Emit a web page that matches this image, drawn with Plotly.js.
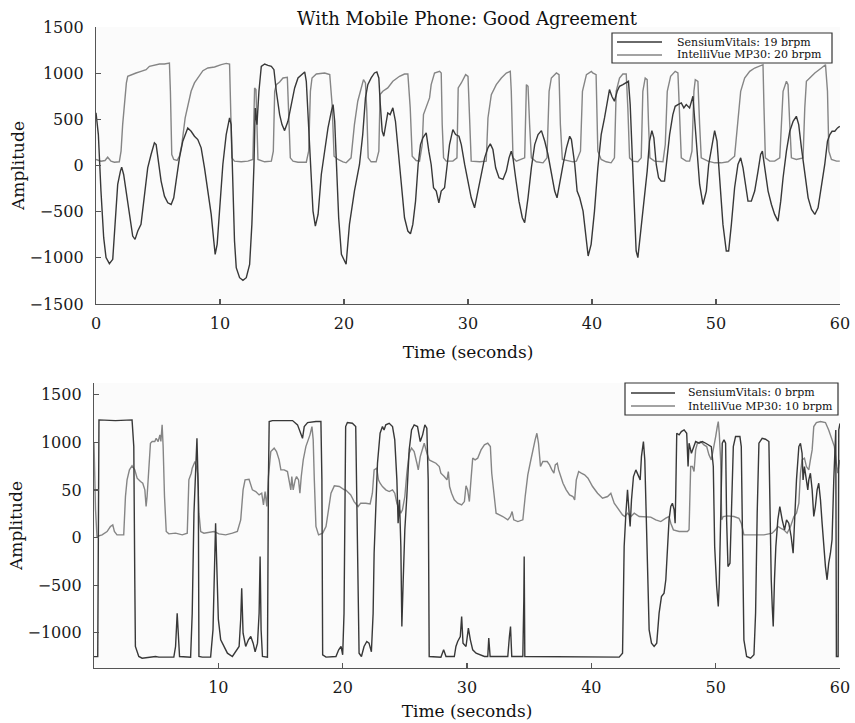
<!DOCTYPE html>
<html>
<head>
<meta charset="utf-8">
<script src="https://cdn.plot.ly/plotly-3.0.1.min.js"></script>
<style>html,body{margin:0;padding:0;background:#fff;}#chart{width:855px;height:723px;}</style>
</head>
<body>
<div id="chart"></div>
<script>
// ---------- DATA ----------
var titleText = "With Mobile Phone: Good Agreement";
var xTitle = "Time (seconds)";
var yTitle = "Amplitude";
var legendTop = ["SensiumVitals: 19 brpm", "IntelliVue MP30: 20 brpm"];
var legendBottom = ["SensiumVitals: 0 brpm", "IntelliVue MP30: 10 brpm"];

// Top panel: SensiumVitals (dark)
var topSensT = [0,0.19,0.40,0.62,0.81,1.08,1.35,1.53,1.75,1.97,2.07,2.23,2.42,2.69,2.96,3.15,3.37,3.63,3.90,4.17,4.44,4.71,4.85,4.98,5.25,5.52,5.79,6.06,6.27,6.46,6.73,7.00,7.27,7.40,7.67,7.94,8.21,8.48,8.75,9.02,9.29,9.50,9.61,9.77,9.96,10.23,10.50,10.77,10.90,11.04,11.17,11.31,11.58,11.85,12.12,12.39,12.57,12.74,12.84,12.98,13.14,13.33,13.60,13.87,14.14,14.35,14.54,14.81,15.00,15.21,15.48,15.75,16.02,16.29,16.56,16.83,16.96,17.10,17.31,17.50,17.69,17.91,18.17,18.44,18.71,18.98,19.12,19.25,19.39,19.57,19.79,20.01,
20.17,20.44,20.84,21.25,21.51,21.73,21.92,22.19,22.46,22.65,22.81,22.91,23.08,23.21,23.35,23.53,23.72,23.94,24.15,24.34,24.61,24.88,25.15,25.36,25.55,25.77,25.98,26.17,26.36,26.63,26.84,27.03,27.22,27.44,27.65,27.84,28.11,28.30,28.51,28.78,29.00,29.27,29.46,29.73,30.00,30.26,30.53,30.80,31.07,31.34,31.61,31.80,32.01,32.23,32.50,32.82,33.09,33.31,33.49,33.63,33.84,34.11,34.38,34.57,34.84,35.11,35.38,35.65,35.92,36.19,36.45,36.72,36.99,37.18,37.40,37.67,37.94,38.20,38.34,38.61,38.80,39.01,39.28,39.50,39.69,
39.93,40.20,40.47,40.74,41.01,41.28,41.41,41.60,41.81,42.03,42.22,42.49,42.76,42.94,43.08,43.24,43.43,43.56,43.70,43.91,44.18,44.45,44.64,44.83,44.99,45.18,45.37,45.58,45.85,46.07,46.26,46.52,46.71,46.93,47.20,47.41,47.60,47.87,48.14,48.27,48.49,48.68,48.95,49.22,49.41,49.67,49.89,50.08,50.29,50.56,50.83,51.02,51.24,51.50,51.77,51.99,52.18,52.37,52.58,52.85,53.12,53.39,53.60,53.74,53.93,54.20,54.47,54.73,55.00,55.22,55.41,55.68,55.95,56.22,56.48,56.67,56.89,57.16,57.43,57.70,57.97,58.23,58.50,58.77,58.99,59.18,59.36,59.58,59.80,59.98];
var topSensV = [570,335,-277,-782,-998,-1063,-1016,-638,-205,-61,-18,-97,-277,-566,-764,-800,-710,-638,-313,-25,119,245,227,83,-169,-332,-404,-422,-350,-169,83,263,371,407,371,317,281,191,-25,-277,-530,-818,-962,-854,-494,11,335,515,443,-97,-818,-1106,-1215,-1243,-1215,-1070,-638,11,623,443,804,1074,1099,1085,1074,1038,804,551,443,378,479,660,840,948,984,1013,912,515,-97,-494,-656,-530,-97,155,407,587,660,479,83,-566,-962,-1016,
-1070,-638,-277,11,335,732,876,948,1002,1013,948,696,371,317,443,569,551,624,479,191,-169,-566,-710,-739,-638,-386,11,227,299,353,155,11,-241,-277,-404,-277,-241,11,227,389,335,317,227,11,-169,-350,-458,-277,-97,83,191,234,173,-25,-133,-151,-61,83,155,83,-133,-386,-566,-620,-350,-25,227,335,378,263,119,-61,-277,-350,-169,11,191,317,281,11,-277,-350,-494,-782,-980,
-854,-494,-25,335,515,732,822,750,696,804,858,876,894,912,660,83,-494,-926,-998,-746,-350,-61,263,378,299,11,-133,-169,-169,83,335,551,641,660,678,624,660,624,750,515,83,-205,-422,-277,11,227,378,263,-133,-638,-926,-926,-638,-241,11,83,-25,-205,-386,-386,-277,-61,119,155,-25,-277,-422,-530,-602,-386,-133,155,371,479,533,443,191,-97,-350,-476,-530,-458,-241,11,263,335,371,371,407,425];

// Top panel: IntelliVue MP30 (light)
var topIntT = [0,0.40,0.73,0.94,1.21,1.48,1.88,2.02,2.15,2.29,2.45,2.56,2.83,3.23,3.63,4.04,4.31,4.71,5.12,5.52,5.92,6.00,6.11,6.27,6.54,6.73,6.92,7.19,7.46,7.67,7.94,8.27,8.62,9.02,9.56,10.10,10.50,10.77,10.85,10.96,11.17,11.71,12.25,12.65,12.79,12.90,13.06,13.60,14.14,14.30,14.41,14.54,14.81,15.08,15.43,15.54,15.67,15.89,16.29,16.96,17.15,17.29,17.42,17.77,18.44,18.85,19.04,19.20,19.52,19.92,
20.17,20.57,20.84,21.11,21.38,21.57,21.73,21.84,21.95,22.19,22.59,22.81,22.91,23.13,23.53,23.94,24.48,24.88,25.15,25.34,25.50,25.82,26.09,26.31,26.41,26.68,26.90,27.03,27.30,27.71,27.84,27.92,28.03,28.24,28.78,29.11,29.21,29.46,29.81,30.00,30.13,30.26,30.94,31.47,31.61,31.88,32.28,32.69,33.09,33.41,33.49,33.63,33.90,34.30,34.57,34.71,34.84,34.97,35.11,35.51,36.05,36.37,36.54,36.72,37.13,37.34,37.45,37.61,37.94,38.47,38.74,39.07,39.23,39.55,39.95,
40.06,40.33,40.47,40.74,41.14,41.54,41.81,41.95,42.22,42.49,42.76,42.89,43.03,43.29,43.70,43.97,44.10,44.29,44.45,44.56,44.67,45.04,45.72,45.91,46.07,46.34,46.71,46.93,47.06,47.20,47.60,47.87,48.06,48.22,48.33,48.54,48.68,48.81,49.35,49.89,50.43,50.97,51.50,51.77,51.99,52.31,52.72,53.12,53.52,53.79,53.87,53.98,54.33,54.73,55.14,55.41,55.68,55.81,55.95,56.08,56.48,57.02,57.16,57.29,57.56,57.97,58.50,58.83,58.99,59.10,59.31,59.72,59.98];
var topIntV = [65,47,54,90,47,36,40,155,443,660,894,966,984,1002,1020,1038,1074,1085,1099,1099,1110,804,119,65,54,101,227,515,696,804,894,966,1027,1056,1067,1092,1106,1099,624,83,47,40,47,65,840,822,65,40,47,155,804,876,905,948,955,624,83,47,36,36,155,804,948,991,1002,984,660,101,65,40,
29,83,443,696,840,930,894,587,83,40,40,155,768,804,840,912,966,991,991,624,101,54,47,227,551,660,732,876,1002,1020,1002,443,83,47,47,83,840,894,984,966,443,47,40,47,515,768,876,948,1002,1020,804,83,47,65,83,876,858,443,83,40,29,83,804,948,1002,984,443,65,54,40,47,155,804,984,1020,
1002,984,155,65,40,29,83,804,948,991,991,624,83,47,40,83,804,948,930,443,83,47,40,227,804,966,1020,1002,443,83,47,47,155,804,930,912,443,83,47,29,29,40,101,515,804,948,1020,1056,1074,1092,624,83,47,47,83,804,912,876,443,83,65,83,624,912,948,1002,1056,1092,804,155,65,47,47];

// Bottom panel: SensiumVitals (dark)
var botSensT = [0,0.30,0.40,1.72,3.06,3.20,3.28,3.33,3.60,3.87,4.95,5.22,6.42,6.56,6.69,6.77,6.88,7.77,7.90,8.04,8.17,8.28,8.39,8.44,8.71,9.38,9.57,9.73,9.78,9.87,10.00,10.19,10.46,10.73,11.13,11.67,11.80,11.88,11.99,12.20,12.42,12.61,12.80,12.96,13.15,13.28,13.36,13.44,13.55,13.95,14.03,14.09,14.35,15.97,16.37,16.64,16.77,16.91,17.18,17.85,18.25,18.33,18.39,18.66,19.46,19.68,19.87,20.00,
20.11,20.19,20.24,20.38,20.78,21.05,21.18,21.32,21.51,21.72,21.94,22.12,22.31,22.45,22.53,22.66,22.80,23.01,23.20,23.33,23.47,23.74,24.01,24.19,24.36,24.46,24.57,24.68,24.76,24.87,25.00,25.16,25.35,25.54,25.75,26.02,26.24,26.43,26.61,26.77,26.88,26.96,27.90,28.12,28.31,28.98,29.11,29.25,29.46,29.57,29.68,29.92,30.11,30.27,30.46,30.73,31.00,31.40,31.67,31.75,31.86,33.28,33.41,33.50,33.60,34.49,34.57,34.60,34.65,
42.24,42.51,42.64,42.78,42.91,43.04,43.12,43.23,43.39,43.58,43.71,43.93,44.03,44.19,44.30,44.41,44.52,44.65,44.84,45.05,45.26,45.45,45.64,45.85,45.99,46.12,46.25,46.39,46.52,46.66,46.74,46.79,46.87,47.06,47.24,47.46,47.67,47.78,47.86,48.05,48.26,48.39,48.66,48.93,49.20,49.46,49.65,49.81,49.92,50.08,50.21,50.29,50.40,50.53,50.67,50.80,50.88,50.99,51.15,51.26,51.42,51.60,51.95,52.06,52.14,52.27,52.49,52.81,53.08,53.21,53.34,53.48,53.74,54.01,54.28,54.36,54.47,54.55,54.63,54.73,54.84,55.00,55.16,55.35,55.54,55.70,55.88,56.07,56.23,56.34,56.50,56.69,56.82,56.95,57.03,57.14,57.30,57.41,57.49,57.62,57.76,57.89,58.02,58.16,58.29,58.43,58.56,58.69,58.83,58.96,59.09,59.23,59.36,59.50,59.58,59.66,59.71,59.85,59.90,60];
var botSensV = [-1250,-1250,1237,1230,1237,957,-443,-1144,-1249,-1267,-1249,-1256,-1256,-1144,-794,-1004,-1249,-1256,-794,257,782,1044,502,-1249,-1256,-1256,-969,-269,152,-269,-857,-1074,-1144,-1214,-1249,-1144,-857,-531,-1004,-1144,-1074,-1039,-1109,-1200,-1109,-794,-199,-969,-1249,-1256,607,1220,1230,1230,1185,1097,1044,1167,1209,1220,1220,607,-1231,-1256,-1249,-1179,-1144,-1231,
-794,400,1167,1209,1202,1167,-94,-1214,-1249,-1144,-1091,-1109,-1200,-794,-164,257,782,1097,1167,1132,1185,1202,1167,1027,607,152,397,-94,-934,-443,82,432,922,1132,1185,1167,1010,1080,1185,1150,607,-1249,-1256,-1179,-1249,-1249,-1144,-1091,-1039,-829,-1109,-1144,-951,-1074,-1179,-1214,-1231,-1249,-1249,-1056,-1249,-1249,-1039,-934,-1249,-1249,-654,-199,-1249,
-1256,-1214,-94,257,502,257,117,397,642,712,677,607,852,1010,817,257,-443,-969,-1109,-1144,-1109,-794,-619,-584,-443,-164,187,327,362,292,152,467,1097,1080,1115,1132,1097,747,992,887,975,1010,992,1010,992,975,957,747,-94,-514,-724,-479,187,992,1027,992,187,-304,-269,257,957,1062,1062,957,-94,-1074,-1249,-1267,-1231,-794,257,992,1044,1034,1010,187,-443,-724,-934,-443,-94,187,327,187,82,187,152,12,-164,152,607,957,992,887,607,747,607,502,607,677,502,222,327,502,572,397,152,-94,-304,-443,-269,-164,-23,607,957,1132,-1249,-1249,1132,1200];

// Bottom panel: IntelliVue MP30 (light)
var botIntT = [0,0.12,0.24,0.65,1.05,1.32,1.51,1.64,1.85,2.39,2.53,2.66,2.85,3.06,3.28,3.47,3.74,3.92,4.09,4.19,4.27,4.41,4.54,4.68,4.89,5.00,5.16,5.30,5.38,5.48,5.56,5.67,5.81,6.02,6.56,7.10,7.50,7.63,7.82,7.90,8.12,8.23,8.33,8.44,8.58,8.84,9.25,9.65,10.05,10.59,11.13,11.53,11.80,11.99,12.15,12.47,12.74,13.01,13.28,13.49,13.63,13.76,13.90,14.03,14.22,14.49,14.68,14.89,15.03,15.30,15.56,15.70,15.83,15.91,16.02,16.18,16.29,16.45,16.56,16.67,16.83,17.04,17.37,17.53,17.63,17.72,17.85,18.06,18.39,18.66,18.87,19.06,19.33,19.73,20.13,
20.24,20.65,20.92,21.24,21.45,21.86,22.21,22.39,22.53,22.74,22.88,23.01,23.20,23.47,23.74,24.01,24.19,24.36,24.54,24.68,24.81,25.00,25.16,25.35,25.54,25.75,25.97,26.08,26.24,26.37,26.56,26.78,26.96,27.23,27.50,27.77,27.90,28.17,28.39,28.50,28.60,28.76,28.98,29.25,29.57,29.79,29.92,30.05,30.19,30.32,30.46,30.65,30.86,31.13,31.40,31.67,31.88,31.99,32.15,32.34,32.61,32.88,33.28,33.49,33.63,33.76,34.09,34.49,34.68,34.89,35.11,35.30,35.48,35.62,35.75,35.91,36.10,36.45,36.64,36.83,36.99,37.10,37.26,37.37,37.53,37.72,37.98,38.25,38.52,38.66,38.79,38.98,39.19,39.46,39.73,
40.10,40.50,40.90,41.31,41.57,41.84,42.24,42.51,42.70,42.91,43.18,43.45,43.85,44.25,44.78,45.18,45.59,45.99,46.25,46.39,46.60,47.06,47.73,47.86,47.99,48.13,48.26,48.39,48.53,48.80,49.06,49.28,49.46,49.65,49.87,50.00,50.13,50.21,50.29,50.40,50.48,50.61,50.94,51.47,51.87,52.06,52.27,52.81,53.34,53.88,54.28,54.55,54.81,55.00,55.22,55.48,55.75,56.02,56.29,56.50,56.69,56.82,56.95,57.14,57.30,57.49,57.62,57.76,57.89,58.10,58.43,58.83,59.09,59.36,59.55,59.71,59.82,59.98];
var botIntV = [1000,300,12,29,64,117,134,64,29,29,432,607,712,754,712,624,589,572,502,327,432,782,992,1010,1010,1044,1010,1080,1010,1185,957,432,64,40,47,29,47,607,677,730,800,747,677,257,64,47,54,64,40,29,47,64,187,502,607,614,502,484,449,467,344,484,327,642,905,940,905,817,712,712,695,607,502,642,502,607,642,607,467,642,817,957,1080,1167,1027,607,117,29,47,117,327,467,544,537,502,
502,449,379,327,362,362,355,467,712,730,607,572,537,502,484,502,467,362,292,257,292,432,677,887,940,905,782,712,852,922,992,887,817,800,782,747,677,642,607,695,537,467,397,362,344,379,544,502,379,607,835,817,835,922,975,992,957,677,502,257,239,222,187,222,274,187,169,187,432,660,800,940,1027,1097,992,747,800,800,765,712,677,765,782,712,642,572,502,449,432,397,607,695,677,660,624,
537,467,414,432,467,362,292,239,222,257,222,257,222,222,215,187,169,204,222,152,82,64,64,82,747,747,695,922,992,1010,975,957,870,817,957,1062,1167,1220,1097,817,187,222,229,222,204,152,29,29,29,29,40,47,82,117,99,82,47,117,222,257,362,677,817,835,747,712,817,922,1167,1209,1220,1209,1132,1027,957,782,677,817];

// Tick labels
var topYTicks = [-1500,-1000,-500,0,500,1000,1500];
var topYText = ["\u22121500","\u22121000","\u2212500","0","500","1000","1500"];
var topXTicks = [0,10,20,30,40,50,60];
var botYTicks = [-1000,-500,0,500,1000,1500];
var botYText = ["\u22121000","\u2212500","0","50","1000","1500"];
var botXTicks = [10,20,30,40,50,60];

// ---------- STYLE / LAYOUT ----------
var W = 855, H = 723;
function px(x){ return x / W; }
function py(y){ return 1 - y / H; }
var darkC = "#383838", lightC = "#858585";
var serif = "DejaVu Serif, Liberation Serif, serif";
var axisCol = "#555555";

function lineTrace(x, y, color, xa, ya, name){
  return {x: x, y: y, type: "scatter", mode: "lines", name: name,
          line: {color: color, width: 1.4}, xaxis: xa, yaxis: ya,
          showlegend: false, hoverinfo: "x+y"};
}
var traces = [
  lineTrace(topIntT, topIntV, lightC, "x", "y", legendTop[1]),
  lineTrace(topSensT, topSensV, darkC, "x", "y", legendTop[0]),
  lineTrace(botIntT, botIntV, lightC, "x2", "y2", legendBottom[1]),
  lineTrace(botSensT, botSensV, darkC, "x2", "y2", legendBottom[0])
];

var axBase = {showline: true, linecolor: axisCol, linewidth: 1.2, mirror: false,
  showgrid: false, zeroline: false, ticks: "inside", ticklen: 5, tickwidth: 1.2,
  tickcolor: axisCol, tickfont: {family: serif, size: 16, color: "#1a1a1a"},
  automargin: false};
function ax(extra){ var o = JSON.parse(JSON.stringify(axBase)); for (var k in extra) o[k] = extra[k]; return o; }

var layout = {
  width: W, height: H,
  margin: {l: 0, r: 0, t: 0, b: 0},
  paper_bgcolor: "#ffffff",
  plot_bgcolor: "#fbfbfb",
  showlegend: false,
  title: {text: titleText, x: px(467), xanchor: "center", xref: "paper",
          y: py(19), yanchor: "middle", yref: "paper",
          font: {family: serif, size: 18, color: "#111"}},
  xaxis: ax({domain: [px(96), px(840)], range: [0, 60], anchor: "y",
    tickvals: topXTicks, ticklabelstandoff: 5,
    title: {text: xTitle, font: {family: serif, size: 17, color: "#111"}, standoff: 13}}),
  yaxis: ax({domain: [py(304), py(27)], range: [-1500, 1500], anchor: "x",
    tickvals: topYTicks, ticktext: topYText, ticklabelstandoff: 8,
    title: {text: yTitle, font: {family: serif, size: 17, color: "#111"}, standoff: 0}}),
  xaxis2: ax({domain: [px(94), px(840)], range: [0, 60], anchor: "y2",
    tickvals: botXTicks, ticklabelstandoff: 5,
    title: {text: xTitle, font: {family: serif, size: 17, color: "#111"}, standoff: 8}}),
  yaxis2: ax({domain: [py(668), py(383)], range: [-1370, 1625], anchor: "x2",
    tickvals: botYTicks, ticktext: botYText, ticklabelstandoff: 8,
    title: {text: yTitle, font: {family: serif, size: 17, color: "#111"}, standoff: 0}}),
  shapes: [],
  annotations: []
};

// Custom legends (boxes, sample lines, labels)
function addLegend(box, lineX0, lineX1, rowsY, textX, labels){
  layout.shapes.push({type: "rect", xref: "paper", yref: "paper",
    x0: px(box[0]), x1: px(box[1]), y0: py(box[3]), y1: py(box[2]),
    line: {color: "#333", width: 1.2}, fillcolor: "#ffffff", layer: "above"});
  var cols = [darkC, lightC];
  for (var i = 0; i < 2; i++){
    layout.shapes.push({type: "line", xref: "paper", yref: "paper",
      x0: px(lineX0), x1: px(lineX1), y0: py(rowsY[i]), y1: py(rowsY[i]),
      line: {color: cols[i], width: 1.3}, layer: "above"});
    layout.annotations.push({xref: "paper", yref: "paper", x: px(textX), y: py(rowsY[i]),
      xanchor: "left", yanchor: "middle", showarrow: false, text: labels[i],
      font: {family: serif, size: 11, color: "#111"}});
  }
}
addLegend([612, 832, 33, 63], 617, 662, [42, 55], 675, legendTop);
addLegend([625, 838, 383, 415], 631, 675, [393, 406], 686, legendBottom);

Plotly.newPlot("chart", traces, layout, {staticPlot: true, displayModeBar: false});
</script>
</body>
</html>
